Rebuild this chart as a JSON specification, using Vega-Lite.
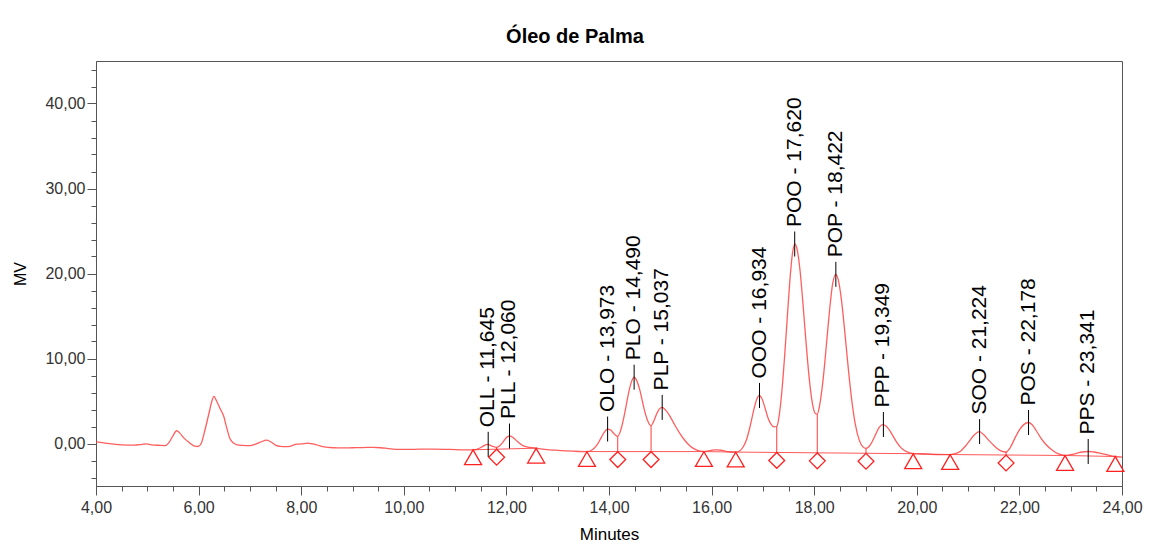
{
  "$schema": "https://vega.github.io/schema/vega-lite/v6.json",
  "width": 1026,
  "height": 425,
  "autosize": {"type": "none"},
  "padding": {"left": 96, "top": 61, "right": 39, "bottom": 71},
  "background": "white",
  "config": {
    "locale": {"number": {"decimal": ",", "thousands": ".", "grouping": [3], "currency": ["", ""]}},
    "font": "Liberation Sans",
    "view": {"stroke": "#555555", "strokeWidth": 1},
    "axis": {
      "grid": false,
      "domainColor": "#555555",
      "tickColor": "#555555",
      "labelFont": "Liberation Sans",
      "labelFontSize": 16,
      "labelColor": "#333333",
      "titleFont": "Liberation Sans",
      "titleFontWeight": "normal",
      "titleColor": "#000000",
      "labelOverlap": false,
      "labelFlush": false
    }
  },
  "title": {
    "text": "Óleo de Palma",
    "font": "Liberation Sans",
    "fontSize": 20,
    "fontWeight": "bold",
    "color": "#000000",
    "anchor": "middle",
    "dx": -34,
    "offset": 14
  },
  "datasets": {
    "curve": [
      {"t": 4.00, "v": 0.18}, {"t": 4.15, "v": 0.08}, {"t": 4.30, "v": -0.05}, {"t": 4.50, "v": -0.15},
      {"t": 4.75, "v": -0.2}, {"t": 4.90, "v": -0.1}, {"t": 4.98, "v": -0.05}, {"t": 5.08, "v": -0.15},
      {"t": 5.25, "v": -0.22}, {"t": 5.35, "v": -0.25}, {"t": 5.42, "v": 0.1}, {"t": 5.50, "v": 0.9},
      {"t": 5.57, "v": 1.5}, {"t": 5.63, "v": 1.25}, {"t": 5.72, "v": 0.6}, {"t": 5.82, "v": 0.1},
      {"t": 5.92, "v": -0.3}, {"t": 5.99, "v": -0.35}, {"t": 6.05, "v": 0.0}, {"t": 6.12, "v": 1.5},
      {"t": 6.20, "v": 3.5}, {"t": 6.26, "v": 5.0}, {"t": 6.30, "v": 5.55}, {"t": 6.35, "v": 5.0},
      {"t": 6.42, "v": 4.1}, {"t": 6.49, "v": 3.2}, {"t": 6.55, "v": 1.8}, {"t": 6.61, "v": 0.6},
      {"t": 6.68, "v": 0.05}, {"t": 6.75, "v": -0.15}, {"t": 6.85, "v": -0.22}, {"t": 7.00, "v": -0.25},
      {"t": 7.10, "v": -0.1}, {"t": 7.20, "v": 0.15}, {"t": 7.33, "v": 0.4}, {"t": 7.42, "v": 0.15},
      {"t": 7.50, "v": -0.2}, {"t": 7.59, "v": -0.35}, {"t": 7.70, "v": -0.37}, {"t": 7.80, "v": -0.3},
      {"t": 7.91, "v": -0.08}, {"t": 8.00, "v": -0.05}, {"t": 8.13, "v": 0.05}, {"t": 8.22, "v": -0.05},
      {"t": 8.30, "v": -0.15}, {"t": 8.45, "v": -0.4}, {"t": 8.62, "v": -0.5}, {"t": 8.80, "v": -0.52},
      {"t": 9.00, "v": -0.5}, {"t": 9.20, "v": -0.48}, {"t": 9.40, "v": -0.45}, {"t": 9.55, "v": -0.5},
      {"t": 9.70, "v": -0.6}, {"t": 9.90, "v": -0.7}, {"t": 10.20, "v": -0.68}, {"t": 10.58, "v": -0.66},
      {"t": 10.90, "v": -0.7}, {"t": 11.22, "v": -0.74}, {"t": 11.35, "v": -0.74}, {"t": 11.45, "v": -0.62},
      {"t": 11.55, "v": -0.3}, {"t": 11.63, "v": -0.1}, {"t": 11.72, "v": -0.3}, {"t": 11.81, "v": -0.45},
      {"t": 11.88, "v": -0.2}, {"t": 11.95, "v": 0.3}, {"t": 12.01, "v": 0.75}, {"t": 12.07, "v": 0.88},
      {"t": 12.14, "v": 0.65}, {"t": 12.22, "v": 0.2}, {"t": 12.32, "v": -0.25}, {"t": 12.45, "v": -0.45},
      {"t": 12.58, "v": -0.55}, {"t": 12.75, "v": -0.68}, {"t": 13.00, "v": -0.8}, {"t": 13.30, "v": -0.9},
      {"t": 13.57, "v": -0.95}, {"t": 13.66, "v": -0.8}, {"t": 13.72, "v": -0.5}, {"t": 13.78, "v": -0.05},
      {"t": 13.84, "v": 0.6}, {"t": 13.90, "v": 1.25}, {"t": 13.97, "v": 1.7}, {"t": 14.03, "v": 1.6},
      {"t": 14.09, "v": 1.2}, {"t": 14.14, "v": 0.92}, {"t": 14.17, "v": 0.85}, {"t": 14.22, "v": 1.4},
      {"t": 14.28, "v": 2.8}, {"t": 14.33, "v": 4.3}, {"t": 14.38, "v": 5.9}, {"t": 14.43, "v": 7.1},
      {"t": 14.49, "v": 7.8}, {"t": 14.54, "v": 7.4}, {"t": 14.60, "v": 6.3}, {"t": 14.65, "v": 5.0},
      {"t": 14.70, "v": 3.7}, {"t": 14.76, "v": 2.6}, {"t": 14.82, "v": 2.1}, {"t": 14.87, "v": 2.6},
      {"t": 14.93, "v": 3.5}, {"t": 14.98, "v": 4.05}, {"t": 15.04, "v": 4.25}, {"t": 15.10, "v": 3.95},
      {"t": 15.19, "v": 3.2}, {"t": 15.28, "v": 2.2}, {"t": 15.38, "v": 1.2}, {"t": 15.48, "v": 0.35},
      {"t": 15.58, "v": -0.3}, {"t": 15.68, "v": -0.7}, {"t": 15.78, "v": -0.9}, {"t": 15.85, "v": -0.95},
      {"t": 15.95, "v": -0.85}, {"t": 16.05, "v": -0.75}, {"t": 16.12, "v": -0.74}, {"t": 16.20, "v": -0.8},
      {"t": 16.30, "v": -0.95}, {"t": 16.40, "v": -1.0}, {"t": 16.47, "v": -1.01}, {"t": 16.55, "v": -0.85},
      {"t": 16.62, "v": -0.35}, {"t": 16.68, "v": 0.45}, {"t": 16.75, "v": 2.0}, {"t": 16.82, "v": 3.9},
      {"t": 16.88, "v": 5.2}, {"t": 16.93, "v": 5.65}, {"t": 16.98, "v": 5.3}, {"t": 17.04, "v": 4.2},
      {"t": 17.10, "v": 3.0}, {"t": 17.16, "v": 2.25}, {"t": 17.22, "v": 1.95}, {"t": 17.27, "v": 2.0},
      {"t": 17.30, "v": 2.6}, {"t": 17.325, "v": 3.6}, {"t": 17.375, "v": 6.5}, {"t": 17.425, "v": 10.4},
      {"t": 17.475, "v": 14.8}, {"t": 17.525, "v": 19.1}, {"t": 17.575, "v": 22.3}, {"t": 17.625, "v": 23.47},
      {"t": 17.675, "v": 22.6}, {"t": 17.725, "v": 20.3}, {"t": 17.775, "v": 16.9}, {"t": 17.825, "v": 13.1},
      {"t": 17.875, "v": 9.45}, {"t": 17.925, "v": 6.45}, {"t": 17.975, "v": 4.4}, {"t": 18.025, "v": 3.5},
      {"t": 18.06, "v": 3.45}, {"t": 18.10, "v": 4.3}, {"t": 18.15, "v": 6.3}, {"t": 18.20, "v": 9.1},
      {"t": 18.25, "v": 12.45}, {"t": 18.30, "v": 15.7}, {"t": 18.36, "v": 18.8}, {"t": 18.42, "v": 19.9},
      {"t": 18.47, "v": 19.25}, {"t": 18.53, "v": 16.95}, {"t": 18.60, "v": 12.9}, {"t": 18.66, "v": 9.1},
      {"t": 18.72, "v": 5.7}, {"t": 18.80, "v": 2.3}, {"t": 18.88, "v": 0.37}, {"t": 18.95, "v": -0.4},
      {"t": 19.01, "v": -0.57}, {"t": 19.07, "v": -0.36}, {"t": 19.13, "v": 0.21}, {"t": 19.20, "v": 1.1},
      {"t": 19.27, "v": 1.92}, {"t": 19.335, "v": 2.23}, {"t": 19.40, "v": 2.06}, {"t": 19.47, "v": 1.54},
      {"t": 19.54, "v": 0.83}, {"t": 19.61, "v": 0.14}, {"t": 19.70, "v": -0.54}, {"t": 19.80, "v": -0.96},
      {"t": 19.93, "v": -1.18}, {"t": 20.20, "v": -1.25}, {"t": 20.45, "v": -1.3}, {"t": 20.65, "v": -1.3},
      {"t": 20.75, "v": -1.2}, {"t": 20.85, "v": -0.9}, {"t": 20.95, "v": -0.3}, {"t": 21.04, "v": 0.4},
      {"t": 21.12, "v": 1.0}, {"t": 21.22, "v": 1.4}, {"t": 21.31, "v": 1.0}, {"t": 21.39, "v": 0.45},
      {"t": 21.48, "v": -0.1}, {"t": 21.56, "v": -0.55}, {"t": 21.65, "v": -0.9}, {"t": 21.74, "v": -1.0},
      {"t": 21.82, "v": -0.5}, {"t": 21.91, "v": 0.6}, {"t": 22.00, "v": 1.6}, {"t": 22.09, "v": 2.25},
      {"t": 22.17, "v": 2.47}, {"t": 22.25, "v": 2.2}, {"t": 22.33, "v": 1.5}, {"t": 22.40, "v": 0.82},
      {"t": 22.50, "v": 0.0}, {"t": 22.63, "v": -0.74}, {"t": 22.75, "v": -1.2}, {"t": 22.89, "v": -1.41},
      {"t": 23.00, "v": -1.3}, {"t": 23.12, "v": -1.15}, {"t": 23.22, "v": -1.0}, {"t": 23.34, "v": -0.94},
      {"t": 23.45, "v": -1.0}, {"t": 23.57, "v": -1.13}, {"t": 23.72, "v": -1.35}, {"t": 23.86, "v": -1.53},
      {"t": 24.00, "v": -1.6}
    ],
    "baselines": [
      {"seg": 1, "t": 11.35, "v": -0.74}, {"seg": 1, "t": 12.58, "v": -0.55},
      {"seg": 2, "t": 13.57, "v": -0.95}, {"seg": 2, "t": 15.85, "v": -0.95},
      {"seg": 3, "t": 15.85, "v": -0.95}, {"seg": 3, "t": 16.47, "v": -1.01},
      {"seg": 4, "t": 16.47, "v": -1.01}, {"seg": 4, "t": 19.93, "v": -1.2},
      {"seg": 5, "t": 19.93, "v": -1.2}, {"seg": 5, "t": 20.65, "v": -1.3},
      {"seg": 6, "t": 20.65, "v": -1.3}, {"seg": 6, "t": 22.89, "v": -1.41},
      {"seg": 7, "t": 22.89, "v": -1.41}, {"seg": 7, "t": 23.87, "v": -1.53}
    ],
    "bounds": [
      {"t": 11.35, "v": -0.74}, {"t": 12.58, "v": -0.55}, {"t": 13.57, "v": -0.95},
      {"t": 15.85, "v": -0.95}, {"t": 16.47, "v": -1.01}, {"t": 19.93, "v": -1.2},
      {"t": 20.65, "v": -1.3}, {"t": 22.89, "v": -1.41}, {"t": 23.87, "v": -1.53}
    ],
    "splits": [
      {"t": 11.81, "base": -0.67, "top": -0.45},
      {"t": 14.17, "base": -0.95, "top": 0.85},
      {"t": 14.82, "base": -0.95, "top": 2.1},
      {"t": 17.27, "base": -1.05, "top": 2.0},
      {"t": 18.06, "base": -1.1, "top": 3.45},
      {"t": 19.01, "base": -1.15, "top": -0.57},
      {"t": 21.74, "base": -1.35, "top": -1.0}
    ],
    "peaks": [
      {"name": "OLL", "t": 11.645, "v": -0.1, "label": "OLL - 11,645"},
      {"name": "PLL", "t": 12.06, "v": 0.88, "label": "PLL - 12,060"},
      {"name": "OLO", "t": 13.973, "v": 1.7, "label": "OLO - 13,973"},
      {"name": "PLO", "t": 14.49, "v": 7.8, "label": "PLO - 14,490"},
      {"name": "PLP", "t": 15.037, "v": 4.25, "label": "PLP - 15,037"},
      {"name": "OOO", "t": 16.934, "v": 5.65, "label": "OOO - 16,934"},
      {"name": "POO", "t": 17.62, "v": 23.47, "label": "POO - 17,620"},
      {"name": "POP", "t": 18.422, "v": 19.9, "label": "POP - 18,422"},
      {"name": "PPP", "t": 19.349, "v": 2.23, "label": "PPP - 19,349"},
      {"name": "SOO", "t": 21.224, "v": 1.4, "label": "SOO - 21,224"},
      {"name": "POS", "t": 22.178, "v": 2.47, "label": "POS - 22,178"},
      {"name": "PPS", "t": 23.341, "v": -0.94, "label": "PPS - 23,341"}
    ]
  },
  "layer": [
    {
      "data": {"name": "curve"},
      "mark": {"type": "line", "color": "#ff4d4d", "strokeWidth": 1.3, "opacity": 0.9, "interpolate": "monotone"},
      "encoding": {
        "x": {
          "field": "t", "type": "quantitative",
          "scale": {"domain": [4, 24], "nice": false, "zero": false},
          "axis": {
            "title": "Minutes",
            "titleFontSize": 17,
            "titlePadding": 11,
            "format": ".2f",
            "tickCount": 1000,
            "values": [4,4.5,5,5.5,6,6.5,7,7.5,8,8.5,9,9.5,10,10.5,11,11.5,12,12.5,13,13.5,14,14.5,15,15.5,16,16.5,17,17.5,18,18.5,19,19.5,20,20.5,21,21.5,22,22.5,23,23.5,24],
            "labelExpr": "datum.value % 2 === 0 ? datum.label : ''",
            "labelOverlap": false,
            "tickSize": {"condition": {"test": "datum.value % 2 === 0", "value": 9}, "value": 5},
            "labelPadding": 4
          }
        },
        "y": {
          "field": "v", "type": "quantitative",
          "scale": {"domain": [-5, 45], "nice": false, "zero": false},
          "axis": {
            "title": "MV",
            "titleFontSize": 16,
            "titlePadding": 16,
            "format": ".2f",
            "tickCount": 1000,
            "values": [-4,-2,0,2,4,6,8,10,12,14,16,18,20,22,24,26,28,30,32,34,36,38,40,42,44],
            "labelExpr": "datum.value === 0 ? '0,00' : (datum.value % 10 === 0 ? datum.label : '')",
            "labelOverlap": false,
            "tickSize": {"condition": {"test": "datum.value % 10 === 0", "value": 9}, "value": 5},
            "labelPadding": 2
          }
        }
      }
    },
    {
      "data": {"name": "baselines"},
      "mark": {"type": "line", "color": "#ff3b3b", "strokeWidth": 1, "opacity": 0.85},
      "encoding": {
        "x": {"field": "t", "type": "quantitative"},
        "y": {"field": "v", "type": "quantitative"},
        "detail": {"field": "seg", "type": "nominal"}
      }
    },
    {
      "data": {"name": "splits"},
      "mark": {"type": "rule", "color": "#ff3b3b", "strokeWidth": 1},
      "encoding": {
        "x": {"field": "t", "type": "quantitative"},
        "y": {"field": "base", "type": "quantitative"},
        "y2": {"field": "top"}
      }
    },
    {
      "data": {"name": "splits"},
      "mark": {"type": "point", "shape": "diamond", "filled": false, "color": "#ff2020", "strokeWidth": 1.3, "size": 250, "opacity": 1, "yOffset": 8},
      "encoding": {
        "x": {"field": "t", "type": "quantitative"},
        "y": {"field": "base", "type": "quantitative"}
      }
    },
    {
      "data": {"name": "bounds"},
      "mark": {"type": "point", "shape": "triangle-up", "filled": false, "color": "#ff2020", "strokeWidth": 1.3, "size": 290, "opacity": 1, "yOffset": 7.5},
      "encoding": {
        "x": {"field": "t", "type": "quantitative"},
        "y": {"field": "v", "type": "quantitative"}
      }
    },
    {
      "data": {"name": "peaks"},
      "mark": {"type": "rule", "color": "#000000", "strokeWidth": 1, "yOffset": -12.5, "y2Offset": 12.5},
      "encoding": {
        "x": {"field": "t", "type": "quantitative"},
        "y": {"field": "v", "type": "quantitative"},
        "y2": {"field": "v"}
      }
    },
    {
      "data": {"name": "peaks"},
      "mark": {"type": "text", "angle": 270, "align": "left", "baseline": "middle", "font": "Liberation Sans", "fontSize": 21, "color": "#000000", "yOffset": -17},
      "encoding": {
        "x": {"field": "t", "type": "quantitative"},
        "y": {"field": "v", "type": "quantitative"},
        "text": {"field": "label"}
      }
    }
  ]
}
